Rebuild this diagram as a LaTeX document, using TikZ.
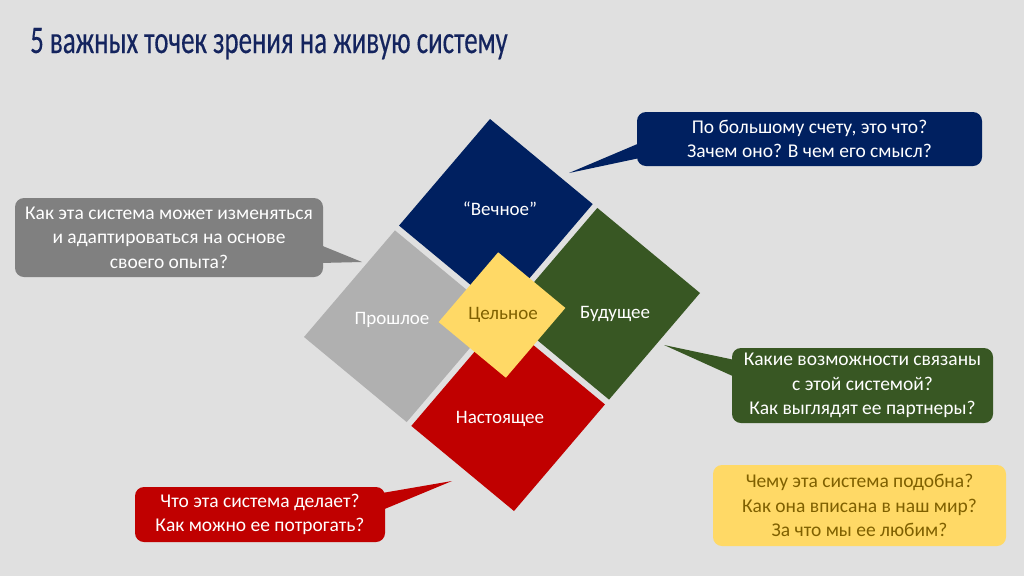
\documentclass[tikz,border=0pt]{standalone}
\usepackage{fontspec}
\setmainfont{Carlito}
\newfontfamily\titlefont[FakeStretch=0.69,FakeBold=0.3]{Carlito}
\usetikzlibrary{calc}
\definecolor{bg}{HTML}{E0E0E0}
\definecolor{navy}{HTML}{002060}
\definecolor{titleblue}{HTML}{14245E}
\definecolor{grsq}{HTML}{B0B0B0}
\definecolor{grcall}{HTML}{808080}
\definecolor{olive}{HTML}{385723}
\definecolor{crimson}{HTML}{C00000}
\definecolor{gold}{HTML}{FFD966}
\definecolor{brown}{HTML}{7F6000}
\tikzset{
  lbl/.style={font=\fontsize{19}{22}\selectfont, text=white, inner sep=0pt},
  callout/.style={rounded corners=9pt, inner sep=0pt, align=center, text=white,
    font=\fontsize{19.5}{24.5}\selectfont},
}
\newcommand{\quadsq}[3]{%
  \fill[#3] ($(C)+#1*\g*(U)+#2*\g*(V)$) -- ($(C)+#1*(U)+#2*\g*(V)$)
    -- ($(C)+#1*(U)+#2*(V)$) -- ($(C)+#1*\g*(U)+#2*(V)$) -- cycle;}
\begin{document}
\begin{tikzpicture}[x=1pt,y=-1pt]
\fill[bg] (0,0) rectangle (1024,576);
\useasboundingbox (0,0) rectangle (1024,576);
% geometry
\coordinate (C) at (502,315);
\def\g{0.022}
\coordinate (U) at (105,87);
\coordinate (V) at (-93,109);
% title
\node[anchor=base west, inner sep=0pt, text=titleblue,
  font=\titlefont\fontsize{39}{44}\selectfont] (title) at (30,53)
  {5 важных точек зрения на живую систему};
% squares
\quadsq{-1}{-1}{navy}
\quadsq{1}{-1}{olive}
\quadsq{-1}{1}{grsq}
\quadsq{1}{1}{crimson}
\fill[gold] ($(C)-0.32*(U)-0.32*(V)$) -- ($(C)+0.32*(U)-0.32*(V)$)
  -- ($(C)+0.32*(U)+0.32*(V)$) -- ($(C)-0.32*(U)+0.32*(V)$) -- cycle;
% labels
\node[lbl] (vech) at (500,209) {“Вечное”};
\node[lbl] (prosh) at (392,320) {Прошлое};
\node[lbl] (bud) at (615,314) {Будущее};
\node[lbl] (nast) at (500,419) {Настоящее};
\node[lbl, text=brown] (cel) at (503,315) {Цельное};
% callouts
\node[callout, fill=navy, minimum width=345pt, minimum height=54pt] (cb) at (809.5,139)
  {По большому счету, это что?\\Зачем оно? В чем его смысл?};
\coordinate (tb) at (569,173);
\fill[navy] ($(cb.west)+(3,4)$) -- (tb) -- ($(cb.west)+(3,19)$) -- cycle;

\node[callout, fill=grcall, minimum width=308pt, minimum height=79pt] (cg) at (169,237.5)
  {Как эта система может изменяться\\и адаптироваться на основе\\своего опыта?};
\coordinate (tg) at (362,262);
\fill[grcall] ($(cg.east)+(-3,7.5)$) -- (tg) -- ($(cg.east)+(-3,25.5)$) -- cycle;

\node[callout, fill=olive, minimum width=261pt, minimum height=75pt] (cv) at (862.5,385.5)
  {Какие возможности связаны\\с этой системой?\\Как выглядят ее партнеры?};
\coordinate (tv) at (664,345);
\fill[olive] ($(cv.west)+(3,-25.5)$) -- (tv) -- ($(cv.west)+(3,-8.5)$) -- cycle;

\node[callout, fill=crimson, minimum width=250pt, minimum height=55pt] (cr) at (260,514.5)
  {Что эта система делает?\\Как можно ее потрогать?};
\coordinate (tr) at (452,481);
\fill[crimson] ($(cr.east)+(-3,-21.5)$) -- (tr) -- ($(cr.east)+(-3,-4.5)$) -- cycle;

\node[callout, fill=gold, text=brown, minimum width=293pt, minimum height=81pt] (cy) at (859.5,505.5)
  {Чему эта система подобна?\\Как она вписана в наш мир?\\За что мы ее любим?};
\end{tikzpicture}
\end{document}
